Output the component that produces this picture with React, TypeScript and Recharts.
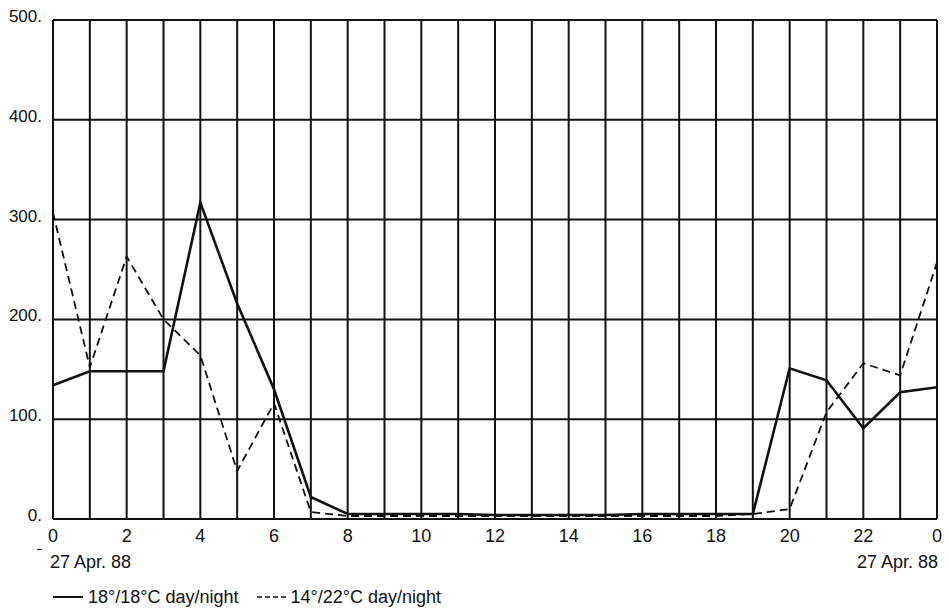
import { LineChart, Line, XAxis, YAxis, CartesianGrid } from "recharts";

const hours = [0, 1, 2, 3, 4, 5, 6, 7, 8, 9, 10, 11, 12, 13, 14, 15, 16, 17, 18, 19, 20, 21, 22, 23, 24];
const constant18 = [134, 148, 148, 148, 317, 216, 130, 22, 5, 5, 5, 5, 4, 4, 4, 4, 5, 5, 5, 5, 151, 139, 91, 127, 132];
const dayNight1422 = [307, 152, 263, 200, 164, 48, 116, 7, 3, 3, 3, 3, 3, 3, 3, 3, 3, 3, 3, 5, 10, 107, 156, 144, 257];
const yTicks = [0, 100, 200, 300, 400, 500];

const data = hours.map((h, i) => ({ hour: h, a: constant18[i], b: dayNight1422[i] }));

const font = "'Liberation Sans', Arial, sans-serif";
const textStyle = { fontFamily: font, fontSize: 18, color: "#111", lineHeight: "20px" };

export default function App() {
  return (
    <div style={{ position: "absolute", left: 0, top: 0, width: 949, height: 610, background: "#fff" }}>
      <LineChart
        width={949}
        height={610}
        data={data}
        margin={{ top: 20, right: 12, left: 0, bottom: 61 }}
      >
        <CartesianGrid stroke="#111" strokeWidth={2} />
        <XAxis
          dataKey="hour"
          type="number"
          domain={[0, 24]}
          ticks={hours}
          interval={0}
          height={30}
          tickLine={false}
          axisLine={{ stroke: "#111", strokeWidth: 2 }}
          tickMargin={4}
          tick={{ fill: "#111", fontSize: 18, fontFamily: font }}
          tickFormatter={(v: number) => (v % 2 === 1 ? "" : v === 24 ? "0" : String(v))}
        />
        <YAxis
          type="number"
          domain={[0, 500]}
          ticks={yTicks}
          width={53}
          tickLine={false}
          tickSize={0}
          axisLine={{ stroke: "#111", strokeWidth: 2 }}
          tickMargin={11}
          tick={{ fill: "#111", fontSize: 17, fontFamily: font, dy: -4 }}
          tickFormatter={(v: number) => v + "."}
        />
        <Line
          dataKey="a"
          stroke="#111"
          strokeWidth={2.6}
          dot={false}
          isAnimationActive={false}
        />
        <Line
          dataKey="b"
          stroke="#111"
          strokeWidth={1.8}
          strokeDasharray="8 5"
          dot={false}
          isAnimationActive={false}
        />
      </LineChart>
      <div style={{ ...textStyle, position: "absolute", left: 50, top: 552 }}>27 Apr. 88</div>
      <div style={{ ...textStyle, position: "absolute", right: 11, top: 552 }}>27 Apr. 88</div>
      <div style={{ position: "absolute", left: 37, top: 549, width: 5, height: 1, background: "#111" }} />
      <div style={{ ...textStyle, position: "absolute", left: 53, top: 587, display: "flex", alignItems: "center" }}>
        <svg width={30} height={10}>
          <line x1={0} y1={5} x2={30} y2={5} stroke="#111" strokeWidth={2} />
        </svg>
        <span style={{ marginLeft: 5 }}>18°/18°C day/night</span>
        <svg width={30} height={10} style={{ marginLeft: 18 }}>
          <line x1={0} y1={5} x2={30} y2={5} stroke="#111" strokeWidth={1.5} strokeDasharray="5 3" />
        </svg>
        <span style={{ marginLeft: 4 }}>14°/22°C day/night</span>
      </div>
    </div>
  );
}
